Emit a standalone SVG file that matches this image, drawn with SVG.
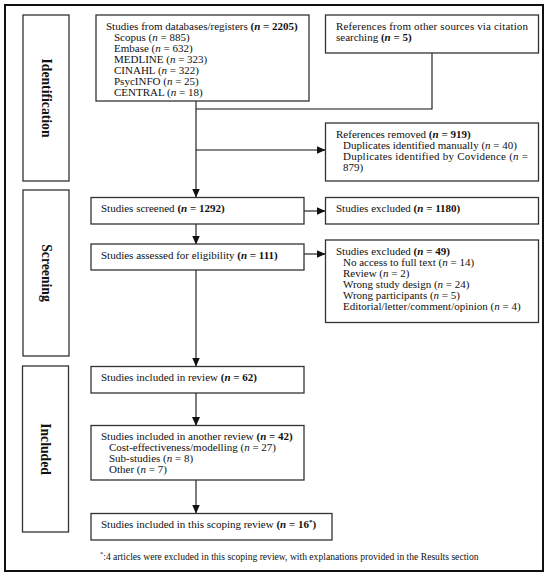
<svg xmlns="http://www.w3.org/2000/svg" width="550" height="577" viewBox="0 0 550 577">
<defs>
<marker id="ah" markerWidth="9" markerHeight="8" refX="8.5" refY="4" orient="auto" markerUnits="userSpaceOnUse">
<path d="M0,0 L9,4 L0,8 z" fill="#111"/>
</marker>
<style>
.box{fill:#fff;stroke:#333;stroke-width:1.3}
.side{fill:#fff;stroke:#333;stroke-width:1.3}
.t{font-family:"Liberation Serif","Times New Roman",serif;font-size:11px;fill:#111}
.lbl{font-family:"Liberation Serif","Times New Roman",serif;font-size:13.7px;font-weight:bold;fill:#111}
.b{font-weight:bold}
.i{font-style:italic}
.ln{fill:none;stroke:#111;stroke-width:1.1}
.fn{font-family:"Liberation Serif","Times New Roman",serif;font-size:9.6px;fill:#111}
</style>
</defs>
<rect width="550" height="577" fill="#fff"/>
<rect x="5" y="5" width="538" height="566" fill="none" stroke="#111" stroke-width="2"/>

<g id="side-identification">
<rect class="side" x="23" y="15" width="46" height="166"/>
<text class="lbl" transform="translate(46,98) rotate(90)" text-anchor="middle" dominant-baseline="central">Identification</text>
</g>
<g id="side-screening">
<rect class="side" x="23" y="190" width="46" height="166"/>
<text class="lbl" transform="translate(46,273) rotate(90)" text-anchor="middle" dominant-baseline="central">Screening</text>
</g>
<g id="side-included">
<rect class="side" x="22.5" y="366" width="46" height="166"/>
<text class="lbl" transform="translate(45.5,449) rotate(90)" text-anchor="middle" dominant-baseline="central">Included</text>
</g>

<g id="connectors">
<path class="ln" d="M196,101 V197" marker-end="url(#ah)"/>
<path class="ln" d="M432,53 V109 H196"/>
<path class="ln" d="M196,150 H325" marker-end="url(#ah)"/>
<path class="ln" d="M304,211 H325" marker-end="url(#ah)"/>
<path class="ln" d="M196,224 V244" marker-end="url(#ah)"/>
<path class="ln" d="M304,254 H325" marker-end="url(#ah)"/>
<path class="ln" d="M196,270 V366" marker-end="url(#ah)"/>
<path class="ln" d="M196,393 V425.5" marker-end="url(#ah)"/>
<path class="ln" d="M196,480 V513" marker-end="url(#ah)"/>
</g>

<g id="databases">
<rect class="box" x="96" y="15" width="213" height="86"/>
<text class="t" x="106" y="29.5">Studies from databases/registers <tspan class="b">(<tspan class="i">n</tspan> = 2205)</tspan></text>
<text class="t" x="114" y="40.5">Scopus (<tspan class="i">n</tspan> = 885)</text>
<text class="t" x="114" y="51.5">Embase (<tspan class="i">n</tspan> = 632)</text>
<text class="t" x="114" y="62.5">MEDLINE (<tspan class="i">n</tspan> = 323)</text>
<text class="t" x="114" y="73.5">CINAHL (<tspan class="i">n</tspan> = 322)</text>
<text class="t" x="114" y="84.5">PsycINFO (<tspan class="i">n</tspan> = 25)</text>
<text class="t" x="114" y="95.5">CENTRAL (<tspan class="i">n</tspan> = 18)</text>
</g>

<g id="other-sources">
<rect class="box" x="325.5" y="15" width="213" height="38"/>
<text class="t" x="336" y="29.5" textLength="192" lengthAdjust="spacing">References from other sources via citation</text>
<text class="t" x="336" y="40.5">searching <tspan class="b">(<tspan class="i">n</tspan> = 5)</tspan></text>
</g>

<g id="removed">
<rect class="box" x="325.5" y="123" width="213" height="58"/>
<text class="t" x="336" y="137.5">References removed <tspan class="b">(<tspan class="i">n</tspan> = 919)</tspan></text>
<text class="t" x="343" y="148.5">Duplicates identified manually (<tspan class="i">n</tspan> = 40)</text>
<text class="t" x="343" y="159.5" textLength="185" lengthAdjust="spacing">Duplicates identified by Covidence (<tspan class="i">n</tspan> =</text>
<text class="t" x="343" y="170.5">879)</text>
</g>

<g id="screened">
<rect class="box" x="91" y="197.5" width="213" height="26.5"/>
<text class="t" x="101" y="212">Studies screened <tspan class="b">(<tspan class="i">n</tspan> = 1292)</tspan></text>
</g>

<g id="excluded-1180">
<rect class="box" x="325.5" y="197.5" width="213" height="26.5"/>
<text class="t" x="336" y="212">Studies excluded <tspan class="b">(<tspan class="i">n</tspan> = 1180)</tspan></text>
</g>

<g id="eligibility">
<rect class="box" x="91" y="244" width="213" height="26"/>
<text class="t" x="101" y="259">Studies assessed for eligibility <tspan class="b">(<tspan class="i">n</tspan> = 111)</tspan></text>
</g>

<g id="excluded-49">
<rect class="box" x="325.5" y="240" width="213" height="82.5"/>
<text class="t" x="336" y="254.5">Studies excluded <tspan class="b">(<tspan class="i">n</tspan> = 49)</tspan></text>
<text class="t" x="343" y="265.5">No access to full text (<tspan class="i">n</tspan> = 14)</text>
<text class="t" x="343" y="276.5">Review (<tspan class="i">n</tspan> = 2)</text>
<text class="t" x="343" y="287.5">Wrong study design (<tspan class="i">n</tspan> = 24)</text>
<text class="t" x="343" y="298.5">Wrong participants (<tspan class="i">n</tspan> = 5)</text>
<text class="t" x="343" y="309.5">Editorial/letter/comment/opinion (<tspan class="i">n</tspan> = 4)</text>
</g>

<g id="included-review">
<rect class="box" x="91" y="366.5" width="213" height="26.5"/>
<text class="t" x="101" y="381">Studies included in review <tspan class="b">(<tspan class="i">n</tspan> = 62)</tspan></text>
</g>

<g id="another-review">
<rect class="box" x="91" y="425.5" width="213" height="54.5"/>
<text class="t" x="101" y="440">Studies included in another review <tspan class="b">(<tspan class="i">n</tspan> = 42)</tspan></text>
<text class="t" x="109" y="451">Cost-effectiveness/modelling (<tspan class="i">n</tspan> = 27)</text>
<text class="t" x="109" y="462">Sub-studies (<tspan class="i">n</tspan> = 8)</text>
<text class="t" x="109" y="473">Other (<tspan class="i">n</tspan> = 7)</text>
</g>

<g id="scoping-review">
<rect class="box" x="91" y="513.5" width="241" height="26.5"/>
<text class="t" x="101" y="528">Studies included in this scoping review <tspan class="b">(<tspan class="i">n</tspan> = 16<tspan font-size="7" dy="-4">*</tspan><tspan dy="4">)</tspan></tspan></text>
</g>

<text class="fn" x="100" y="559.5"><tspan font-size="6.5" dy="-3.5">*</tspan><tspan dy="3.5">:4 articles were excluded in this scoping review, with explanations provided in the Results section</tspan></text>
</svg>
